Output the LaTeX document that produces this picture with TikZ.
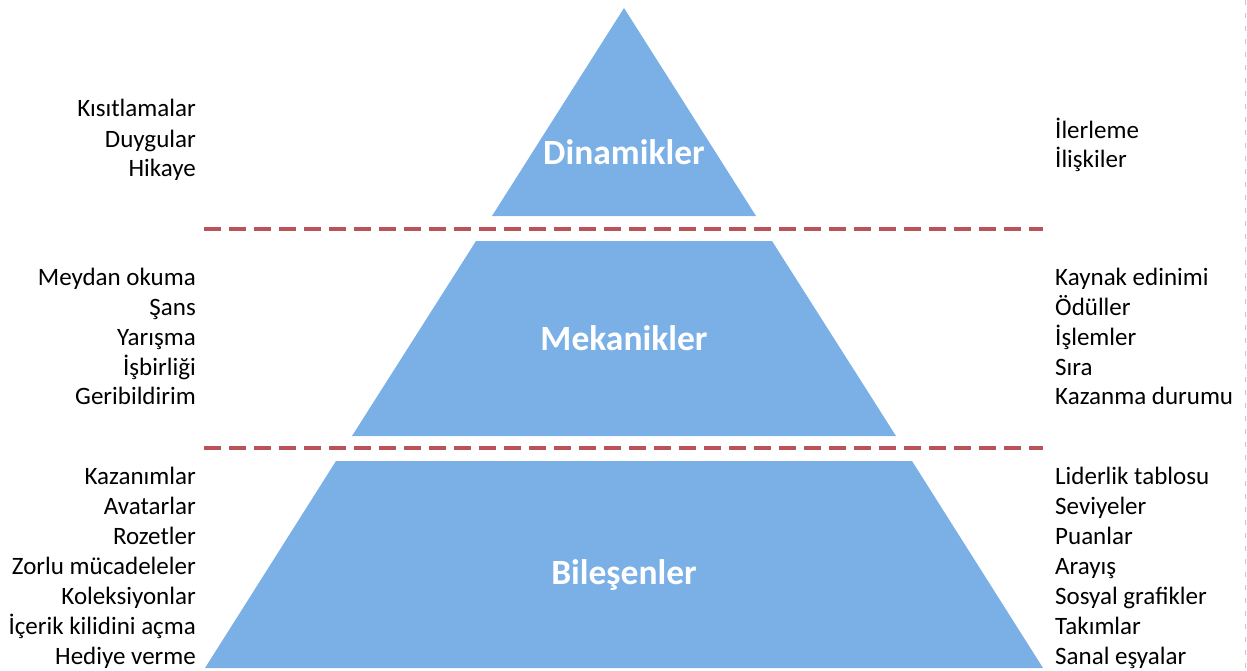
\documentclass[tikz,border=0pt]{standalone}
\usepackage{fontspec}
\setmainfont{Carlito}
\definecolor{pyr}{RGB}{122,176,230}
\definecolor{sep}{RGB}{186,82,90}
\definecolor{edge}{RGB}{200,200,200}
\begin{document}
\begin{tikzpicture}[x=1pt,y=-1pt,
  level/.style={fill=pyr,draw=none},
  title/.style={font=\fontsize{35.5}{38}\selectfont\bfseries,text=white,anchor=base,inner sep=0pt},
  lt/.style={font=\fontsize{25}{29}\selectfont,anchor=base east,inner sep=0pt},
  rt/.style={font=\fontsize{25}{29}\selectfont,anchor=base west,inner sep=0pt},
  sepline/.style={draw=sep,line width=4pt,dash pattern=on 17pt off 8pt}]
\useasboundingbox (0,0) rectangle (1247,670);
% pyramid levels
\fill[level] (624,8) -- (756,216) -- (492,216) -- cycle;
\fill[level] (476,241) -- (772,241) -- (896,436) -- (352,436) -- cycle;
\fill[level] (336,461) -- (912,461) -- (1043,668) -- (205,668) -- cycle;
% separators
\coordinate (s1a) at (204,229); \coordinate (s1b) at (1043,229);
\coordinate (s2a) at (204,448); \coordinate (s2b) at (1043,448);
\draw[sepline] (s1a) -- (s1b);
\draw[sepline] (s2a) -- (s2b);
% right edge
\coordinate (e1) at (1245,0); \coordinate (e2) at (1245,670);
\draw[edge,line width=0.8pt,dash pattern=on 5pt off 8pt] (e1) -- (e2);
% titles
\node[title] (dyn) at (624,164) {Dinamikler};
\node[title] (mek) at (624,350) {Mekanikler};
\node[title] (bil) at (624,584) {Bileşenler};
% left texts
\node[lt] (l1) at (196,116) {Kısıtlamalar};
\node[lt] (l2) at (196,147) {Duygular};
\node[lt] (l3) at (196,176) {Hikaye};
\node[lt] (l4) at (196,285) {Meydan okuma};
\node[lt] (l5) at (196,315) {Şans};
\node[lt] (l6) at (196,345) {Yarışma};
\node[lt] (l7) at (196,375) {İşbirliği};
\node[lt] (l8) at (196,404) {Geribildirim};
\node[lt] (l9) at (196,484) {Kazanımlar};
\node[lt] (l10) at (196,514) {Avatarlar};
\node[lt] (l11) at (196,544) {Rozetler};
\node[lt] (l12) at (196,574) {Zorlu mücadeleler};
\node[lt] (l13) at (196,604) {Koleksiyonlar};
\node[lt] (l14) at (196,634) {İçerik kilidini açma};
\node[lt] (l15) at (196,664) {Hediye verme};
% right texts
\node[rt] (r1) at (1055,138) {İlerleme};
\node[rt] (r2) at (1055,167) {İlişkiler};
\node[rt] (r3) at (1055,285) {Kaynak edinimi};
\node[rt] (r4) at (1055,315) {Ödüller};
\node[rt] (r5) at (1055,345) {İşlemler};
\node[rt] (r6) at (1055,375) {Sıra};
\node[rt] (r7) at (1055,404) {Kazanma durumu};
\node[rt] (r8) at (1055,484) {Liderlik tablosu};
\node[rt] (r9) at (1055,514) {Seviyeler};
\node[rt] (r10) at (1055,544) {Puanlar};
\node[rt] (r11) at (1055,574) {Arayış};
\node[rt] (r12) at (1055,604) {Sosyal grafikler};
\node[rt] (r13) at (1055,634) {Takımlar};
\node[rt] (r14) at (1055,664) {Sanal eşyalar};
\end{tikzpicture}
\end{document}
